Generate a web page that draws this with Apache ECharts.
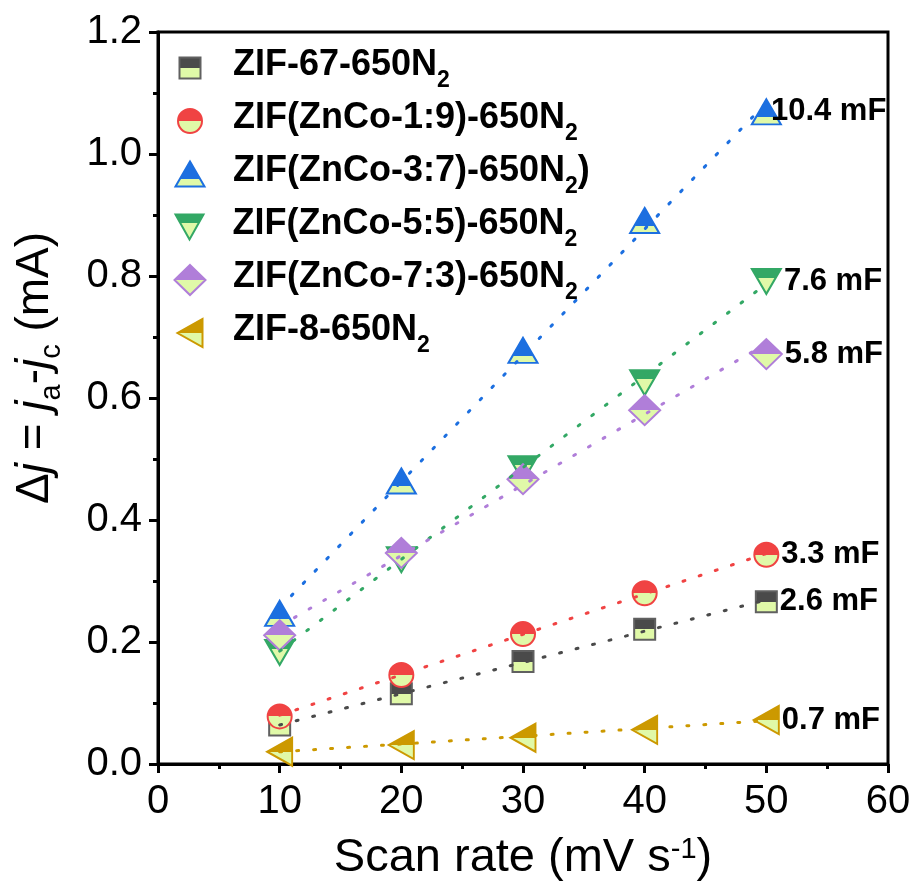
<!DOCTYPE html>
<html><head><meta charset="utf-8">
<script src="https://cdn.jsdelivr.net/npm/echarts@6/dist/echarts.min.js"></script>
<style>html,body{margin:0;padding:0;background:#fff}#c{width:914px;height:889px}</style>
</head><body><div id="c"></div>
<script>
// ---- data ----
const scanRates = [10, 20, 30, 40, 50];
const zif67  = [0.064, 0.115, 0.168, 0.221, 0.266];
const zn19   = [0.078, 0.146, 0.213, 0.280, 0.343];
const zn37   = [0.247, 0.464, 0.678, 0.891, 1.069];
const zn55   = [0.183, 0.335, 0.484, 0.625, 0.791];
const zn73   = [0.211, 0.346, 0.467, 0.580, 0.672];
const zif8   = [0.020, 0.031, 0.043, 0.056, 0.072];
const fitX     = [10, 50];
const fitZif67 = [0.064, 0.269];
const fitZn19  = [0.080, 0.345];
const fitZn37  = [0.256, 1.084];
const fitZn55  = [0.185, 0.787];
const fitZn73  = [0.226, 0.689];
const fitZif8  = [0.020, 0.071];
const seriesNames = ['ZIF-67-650N2', 'ZIF(ZnCo-1:9)-650N2', 'ZIF(ZnCo-3:7)-650N2)', 'ZIF(ZnCo-5:5)-650N2', 'ZIF(ZnCo-7:3)-650N2', 'ZIF-8-650N2'];
const capLabels = ['2.6 mF', '3.3 mF', '10.4 mF', '7.6 mF', '5.8 mF', '0.7 mF'];
const xTicks = [0, 10, 20, 30, 40, 50, 60];
const yTicks = [0, 0.2, 0.4, 0.6, 0.8, 1.0, 1.2];

const values = [zif67, zn19, zn37, zn55, zn73, zif8];
const fits = [fitZif67, fitZn19, fitZn37, fitZn55, fitZn73, fitZif8];

// ---- styles ----
const FONT = 'Liberation Sans, Arial, sans-serif';
const colors = ['#4a4a4a', '#f04343', '#1c6fe0', '#33a865', '#b07ed9', '#cc9900'];
const borders = ['#606060', '#f04343', '#1c6fe0', '#33a865', '#b07ed9', '#cc9900'];
const light = '#e0f9a8';
const symbols = ['rect', 'circle', 'triangle', 'path://M0,0L28,0L14,25Z', 'diamond', 'path://M25,0L25,28L0,14Z'];
const symSizes = [[21, 21], [24, 24], [29, 25], [29, 25], [31, 30], [25, 28]];
const splits = [0.5, 0.5, 0.7, 0.36, 0.5, 0.5];
const labelOffsets = [[0, 0], [0, 0], [-13, 0], [0, 0], [0, 0], [0, 0]];
const rowCenters = [69, 122, 175, 228, 281, 334];

function halfFill(c, s) {
  return {type: 'linear', x: 0, y: 0, x2: 0, y2: 1, global: false,
    colorStops: [{offset: 0, color: c}, {offset: s, color: c}, {offset: s, color: light}, {offset: 1, color: light}]};
}
const legendRich = {
  n: {fontSize: 36, fontWeight: 'bold', fontFamily: FONT, color: '#000', verticalAlign: 'top', lineHeight: 42},
  s: {fontSize: 23, fontWeight: 'bold', fontFamily: FONT, color: '#000', verticalAlign: 'top', lineHeight: 23, padding: [22, 0, 0, 0]}
};
function legendFmt(name) {
  return '{n|' + name.replace('N2', 'N}{s|2}{n|') + '}';
}

const series = [];
const legends = [];
values.forEach((vals, i) => {
  series.push({
    name: seriesNames[i], type: 'scatter', z: 2,
    symbol: symbols[i], symbolSize: symSizes[i],
    itemStyle: {color: halfFill(colors[i], splits[i]), borderColor: borders[i], borderWidth: 2, opacity: 1},
    data: vals.map((v, k) => {
      const item = {value: [scanRates[k], v]};
      if (k === vals.length - 1) {
        item.label = {show: true, position: 'right', distance: 2, offset: labelOffsets[i], formatter: capLabels[i],
          fontSize: 31, fontWeight: 'bold', fontFamily: FONT, color: '#000'};
      }
      return item;
    }),
    emphasis: {disabled: true}
  });
  const w = symSizes[i][0], h = symSizes[i][1];
  legends.push({
    show: true, orient: 'vertical', padding: 0, selectedMode: false,
    left: 189 - w / 2, top: rowCenters[i] - 22,
    itemWidth: w, itemHeight: h,
    data: [seriesNames[i]],
    formatter: legendFmt,
    itemStyle: {borderWidth: 2},
    textStyle: {padding: [0, 0, 0, 232 - (189 + w / 2 + 5)], rich: legendRich}
  });
});
fits.forEach((f, i) => {
  series.push({
    name: 'fit' + i, type: 'line', z: 3, symbol: 'none', silent: true,
    lineStyle: {color: colors[i], width: 3, type: [2, 15], cap: 'round'},
    data: fitX.map((x, k) => [x, f[k]])
  });
});

const chart = echarts.init(document.getElementById('c'), null, {renderer: 'canvas'});
chart.setOption({
  animation: false,
  backgroundColor: '#fff',
  grid: {left: 158, right: 26, top: 32, bottom: 125, show: true, borderColor: '#000', borderWidth: 3, containLabel: false},
  legend: legends,
  xAxis: {
    type: 'value', min: xTicks[0], max: xTicks[xTicks.length - 1], interval: 10,
    name: 'Scan rate (mV s{sup|-1})', nameLocation: 'middle', nameGap: 71,
    nameTextStyle: {fontSize: 47, fontFamily: FONT, color: '#000',
      rich: {sup: {fontSize: 29, fontFamily: FONT, color: '#000', verticalAlign: 'top'}}},
    axisLine: {show: true, lineStyle: {color: '#000', width: 3}},
    axisTick: {show: true, inside: false, length: 9, lineStyle: {color: '#000', width: 3}},
    minorTick: {show: true, splitNumber: 2, length: 5, lineStyle: {color: '#000', width: 3}},
    axisLabel: {fontSize: 40, fontFamily: FONT, color: '#000', margin: 18},
    splitLine: {show: false}
  },
  yAxis: {
    type: 'value', min: yTicks[0], max: yTicks[yTicks.length - 1], interval: 0.2,
    name: '{t|Δ}{i|j}{t| = }{i|j}{s|a}{t|-}{i|j}{s|c}{t| (mA)}', nameLocation: 'middle', nameGap: 94,
    nameTextStyle: {fontSize: 46, fontFamily: FONT, color: '#000', padding: [0, 0, 0, 60],
      rich: {
        t: {fontSize: 46, fontFamily: FONT, color: '#000', verticalAlign: 'top', lineHeight: 52},
        i: {fontSize: 46, fontFamily: FONT, fontStyle: 'italic', color: '#000', verticalAlign: 'top', lineHeight: 52},
        s: {fontSize: 29, fontFamily: FONT, color: '#000', verticalAlign: 'top', lineHeight: 29, padding: [25, 0, 0, 0]}
      }},
    axisLine: {show: true, lineStyle: {color: '#000', width: 3}},
    axisTick: {show: true, inside: false, length: 9, lineStyle: {color: '#000', width: 3}},
    minorTick: {show: true, splitNumber: 2, length: 5, lineStyle: {color: '#000', width: 3}},
    axisLabel: {fontSize: 40, fontFamily: FONT, color: '#000', margin: 16, formatter: v => v.toFixed(1)},
    splitLine: {show: false}
  },
  series: series
});
</script>
</body></html>
